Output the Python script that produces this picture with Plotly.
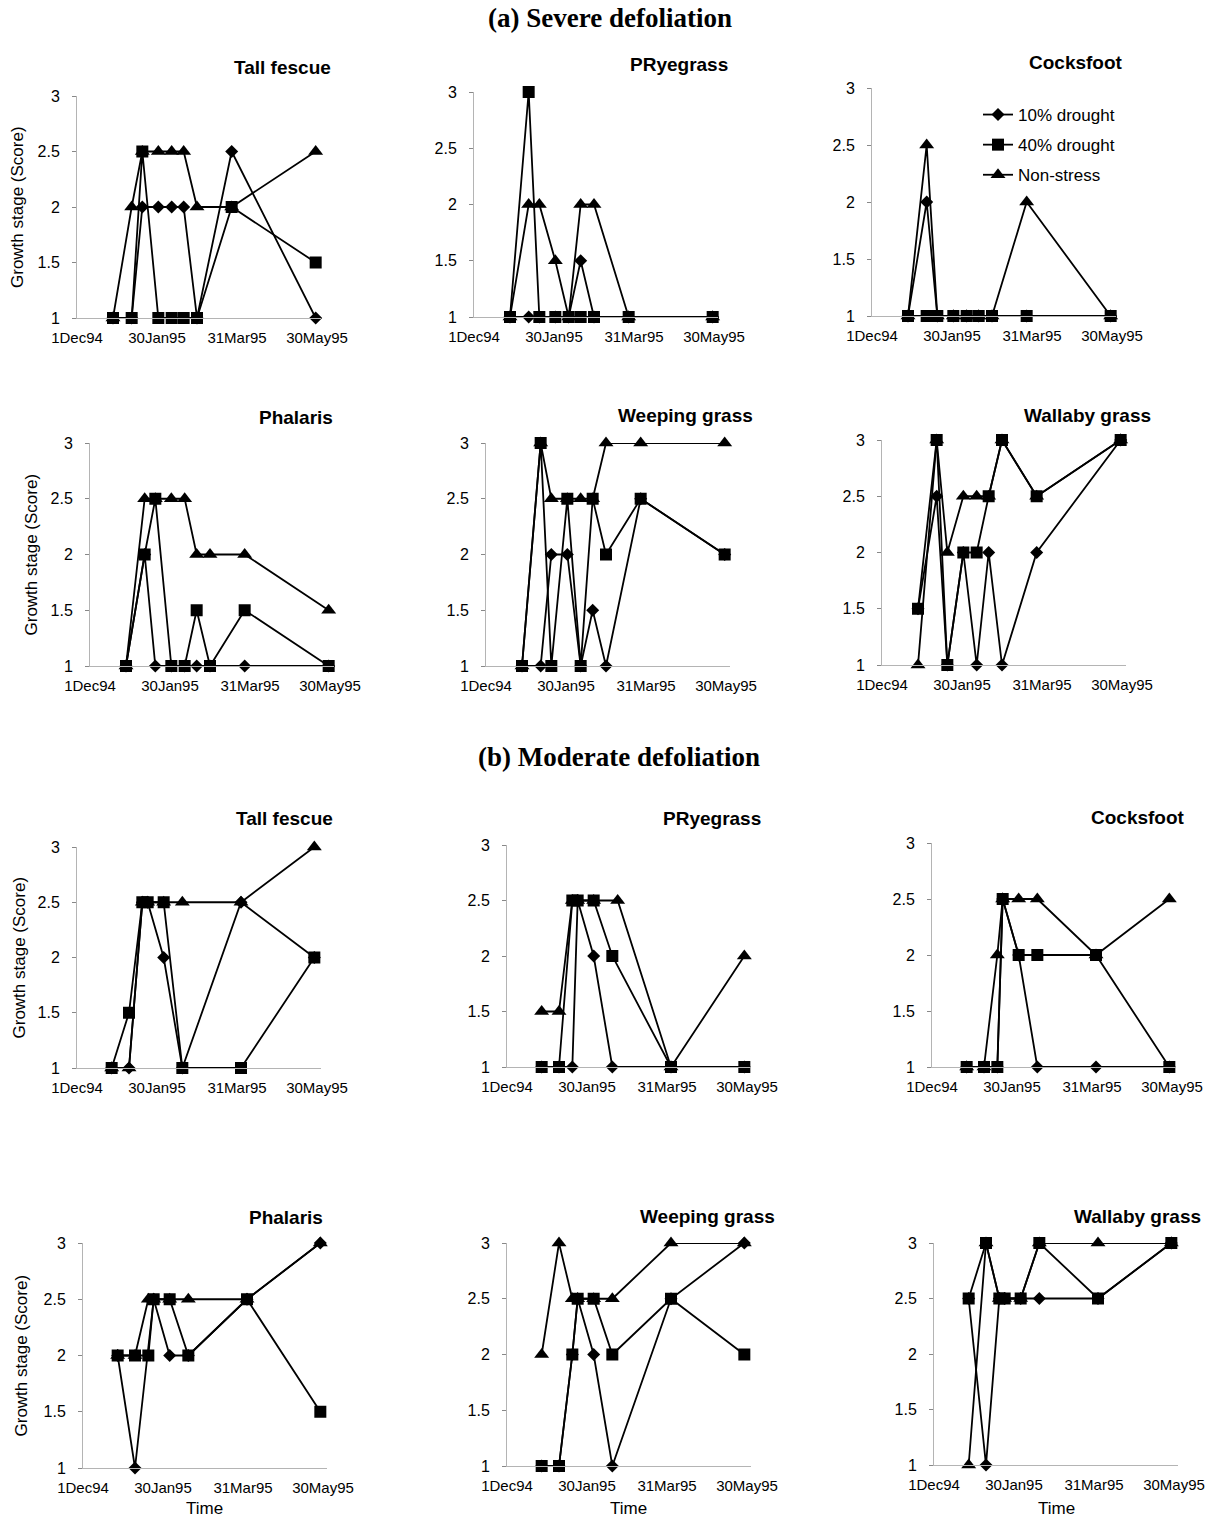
import plotly.graph_objects as go

# Sampling dates (severe and moderate defoliation experiments)
SEVERE_DATES = ["1994-12-28", "1995-01-11", "1995-01-19", "1995-01-31", "1995-02-10",
                "1995-02-19", "1995-03-01", "1995-03-27", "1995-05-29"]
MODERATE_DATES = ["1994-12-27", "1995-01-09", "1995-01-19", "1995-01-23", "1995-02-04",
                  "1995-02-18", "1995-02-22", "1995-04-03", "1995-05-28"]

TREATMENTS = ["10% drought", "40% drought", "Non-stress"]
X_TICK_DATES = ["1994-12-01", "1995-01-30", "1995-03-31", "1995-05-30"]
X_TICK_TEXT = ["1Dec94", "30Jan95", "31Mar95", "30May95"]
Y_TICKS = [1, 1.5, 2, 2.5, 3]
Y_TICK_TEXT = ["1", "1.5", "2", "2.5", "3"]

# (a) Severe defoliation - growth stage scores
sev_tall_fescue_10 = [1, 1, 2, 2, 2, 2, 1, 2.5, 1]
sev_tall_fescue_40 = [1, 1, 2.5, 1, 1, 1, 1, 2, 1.5]
sev_tall_fescue_ns = [1, 2, 2.5, 2.5, 2.5, 2.5, 2, 2, 2.5]

sev_pryegrass_10 = [1, 1, 1, 1, 1, 1.5, 1, 1, 1]
sev_pryegrass_40 = [1, 3, 1, 1, 1, 1, 1, 1, 1]
sev_pryegrass_ns = [1, 2, 2, 1.5, 1, 2, 2, 1, 1]

sev_cocksfoot_10 = [1, 2, 1, 1, 1, 1, 1, 1, 1]
sev_cocksfoot_40 = [1, 1, 1, 1, 1, 1, 1, 1, 1]
sev_cocksfoot_ns = [1, 2.5, 1, 1, 1, 1, 1, 2, 1]

sev_phalaris_10 = [1, 2, 1, 1, 1, 1, 1, 1, 1]
sev_phalaris_40 = [1, 2, 2.5, 1, 1, 1.5, 1, 1.5, 1]
sev_phalaris_ns = [1, 2.5, 2.5, 2.5, 2.5, 2, 2, 2, 1.5]

sev_weeping_10 = [1, 1, 2, 2, 1, 1.5, 1, 2.5, 2]
sev_weeping_40 = [1, 3, 1, 2.5, 1, 2.5, 2, 2.5, 2]
sev_weeping_ns = [1, 3, 2.5, 2.5, 2.5, 2.5, 3, 3, 3]

sev_wallaby_10 = [1.5, 2.5, 1, 2, 1, 2, 1, 2, 3]
sev_wallaby_40 = [1.5, 3, 1, 2, 2, 2.5, 3, 2.5, 3]
sev_wallaby_ns = [1, 3, 2, 2.5, 2.5, 2.5, 3, 2.5, 3]

# (b) Moderate defoliation - growth stage scores (None = not sampled)
mod_tall_fescue_10 = [1, 1, 2.5, 2.5, 2, 1, None, 2.5, 2]
mod_tall_fescue_40 = [1, 1.5, 2.5, 2.5, 2.5, 1, None, 1, 2]
mod_tall_fescue_ns = [1, 1, 2.5, 2.5, 2.5, 2.5, None, 2.5, 3]

mod_pryegrass_10 = [1, 1, 1, 2.5, 2, 1, None, 1, 1]
mod_pryegrass_40 = [1, 1, 2.5, 2.5, 2.5, 2, None, 1, 1]
mod_pryegrass_ns = [1.5, 1.5, 2.5, 2.5, 2.5, None, 2.5, 1, 2]

mod_cocksfoot_10 = [1, 1, 1, 2.5, 2, 1, None, 1, 1]
mod_cocksfoot_40 = [1, 1, 1, 2.5, 2, 2, None, 2, 1]
mod_cocksfoot_ns = [1, 1, 2, 2.5, 2.5, 2.5, None, 2, 2.5]

mod_phalaris_10 = [2, 1, None, 2.5, 2, 2, None, 2.5, 3]
mod_phalaris_40 = [2, 2, 2, 2.5, 2.5, 2, None, 2.5, 1.5]
mod_phalaris_ns = [2, 2, 2.5, 2.5, 2.5, 2.5, None, 2.5, 3]

mod_weeping_10 = [1, 1, 2, 2.5, 2, 1, None, 2.5, 3]
mod_weeping_40 = [1, 1, 2, 2.5, 2.5, 2, None, 2.5, 2]
mod_weeping_ns = [2, 3, 2.5, 2.5, 2.5, 2.5, None, 3, 3]

mod_wallaby_10 = [2.5, 1, 2.5, 2.5, 2.5, 2.5, None, 2.5, 3]
mod_wallaby_40 = [2.5, 3, 2.5, 2.5, 2.5, 3, None, 2.5, 3]
mod_wallaby_ns = [1, 3, 2.5, 2.5, 2.5, 3, None, 3, 3]

PANELS = [
    ("Tall fescue", SEVERE_DATES, [sev_tall_fescue_10, sev_tall_fescue_40, sev_tall_fescue_ns]),
    ("PRyegrass", SEVERE_DATES, [sev_pryegrass_10, sev_pryegrass_40, sev_pryegrass_ns]),
    ("Cocksfoot", SEVERE_DATES, [sev_cocksfoot_10, sev_cocksfoot_40, sev_cocksfoot_ns]),
    ("Phalaris", SEVERE_DATES, [sev_phalaris_10, sev_phalaris_40, sev_phalaris_ns]),
    ("Weeping grass", SEVERE_DATES, [sev_weeping_10, sev_weeping_40, sev_weeping_ns]),
    ("Wallaby grass", SEVERE_DATES, [sev_wallaby_10, sev_wallaby_40, sev_wallaby_ns]),
    ("Tall fescue", MODERATE_DATES, [mod_tall_fescue_10, mod_tall_fescue_40, mod_tall_fescue_ns]),
    ("PRyegrass", MODERATE_DATES, [mod_pryegrass_10, mod_pryegrass_40, mod_pryegrass_ns]),
    ("Cocksfoot", MODERATE_DATES, [mod_cocksfoot_10, mod_cocksfoot_40, mod_cocksfoot_ns]),
    ("Phalaris", MODERATE_DATES, [mod_phalaris_10, mod_phalaris_40, mod_phalaris_ns]),
    ("Weeping grass", MODERATE_DATES, [mod_weeping_10, mod_weeping_40, mod_weeping_ns]),
    ("Wallaby grass", MODERATE_DATES, [mod_wallaby_10, mod_wallaby_40, mod_wallaby_ns]),
]

# Page geometry in pixels: plot left, plot top, plot bottom, title right edge, title centre y
W, H = 1224, 1521
PLOT_W = 244
BOXES = [
    (77, 96, 318, 333, 67), (474, 92, 317, 730, 65), (872, 88, 316, 1125, 63),
    (90, 443, 666, 335, 417), (486, 443, 666, 755, 415), (882, 440, 665, 1153, 415),
    (77, 847, 1068, 335, 818), (507, 845, 1067, 763, 818), (932, 843, 1067, 1187, 817),
    (83, 1243, 1468, 325, 1217), (507, 1243, 1466, 777, 1216), (934, 1243, 1465, 1203, 1216),
]
YLABEL_X = [17, None, None, 31, None, None, 19, None, None, 21, None, None]

SANS = "Liberation Sans, Arial, sans-serif"
SERIF = "Liberation Serif, Times New Roman, serif"
SYMBOLS = ["diamond", "square", "triangle-up"]
SIZES = [10, 12, 13]
AXIS_GREY = "#b4b4b4"


def px_x(v):
    return v / W


def px_y(v):
    return 1 - v / H


fig = go.Figure()
annotations = []
layout_axes = {}

for i, ((species, dates, series), box) in enumerate(zip(PANELS, BOXES), start=1):
    left, top, bottom, t_right, t_y = box
    xa = "x" if i == 1 else f"x{i}"
    ya = "y" if i == 1 else f"y{i}"
    for k, (name, vals) in enumerate(zip(TREATMENTS, series)):
        fig.add_trace(go.Scatter(
            x=dates, y=vals, name=name, mode="lines+markers",
            line=dict(color="black", width=1.8),
            marker=dict(symbol=SYMBOLS[k], size=SIZES[k], color="black"),
            connectgaps=True, cliponaxis=False,
            legendgroup=name, showlegend=(i == 3),
            xaxis=xa, yaxis=ya,
        ))
    key = "" if i == 1 else str(i)
    layout_axes[f"xaxis{key}"] = dict(
        domain=[px_x(left), px_x(left + PLOT_W)], anchor=ya, type="date",
        range=["1994-12-01", "1995-06-02"], tickmode="array",
        tickvals=X_TICK_DATES, ticktext=X_TICK_TEXT, ticks="",
        showline=True, linecolor=AXIS_GREY, linewidth=1, showgrid=False,
        zeroline=False, tickfont=dict(family=SANS, size=15, color="black"),
        ticklabelstandoff=6, fixedrange=True, automargin=False,
    )
    layout_axes[f"yaxis{key}"] = dict(
        domain=[px_y(bottom), px_y(top)], anchor=xa, range=[1, 3],
        tickmode="array", tickvals=Y_TICKS, ticktext=Y_TICK_TEXT,
        ticks="outside", ticklen=4, tickcolor="#888888",
        showline=True, linecolor=AXIS_GREY, linewidth=1, showgrid=False,
        zeroline=False, tickfont=dict(family=SANS, size=16, color="black"),
        ticklabelstandoff=9, fixedrange=True, automargin=False,
    )
    annotations.append(dict(
        text=f"<b>{species}</b>", x=px_x(t_right), y=px_y(t_y), xref="paper", yref="paper",
        xanchor="right", yanchor="middle", showarrow=False,
        font=dict(family=SANS, size=19, color="black"),
    ))
    if YLABEL_X[i - 1] is not None:
        annotations.append(dict(
            text="Growth stage (Score)", x=px_x(YLABEL_X[i - 1]), y=px_y((top + bottom) / 2),
            xref="paper", yref="paper", textangle=-90, showarrow=False,
            xanchor="center", yanchor="middle",
            font=dict(family=SANS, size=17, color="black"),
        ))
    if i >= 10:
        annotations.append(dict(
            text="Time", x=px_x(left + PLOT_W / 2), y=px_y(1508), xref="paper", yref="paper",
            xanchor="center", yanchor="middle", showarrow=False,
            font=dict(family=SANS, size=17, color="black"),
        ))

annotations.append(dict(
    text="<b>(a) Severe defoliation</b>", x=px_x(610), y=px_y(18), xref="paper", yref="paper",
    xanchor="center", yanchor="middle", showarrow=False,
    font=dict(family=SERIF, size=27, color="black"),
))
annotations.append(dict(
    text="<b>(b) Moderate defoliation</b>", x=px_x(619), y=px_y(757), xref="paper", yref="paper",
    xanchor="center", yanchor="middle", showarrow=False,
    font=dict(family=SERIF, size=27, color="black"),
))

fig.update_layout(
    width=W, height=H, margin=dict(l=0, r=0, t=0, b=0, autoexpand=False),
    paper_bgcolor="white", plot_bgcolor="white",
    font=dict(family=SANS, color="black"),
    annotations=annotations,
    legend=dict(
        x=px_x(978), y=px_y(97), xanchor="left", yanchor="top",
        bgcolor="rgba(0,0,0,0)", font=dict(family=SANS, size=17, color="black"),
        tracegroupgap=5, itemclick=False, itemdoubleclick=False,
    ),
    **layout_axes,
)

fig.write_html("out.html")
